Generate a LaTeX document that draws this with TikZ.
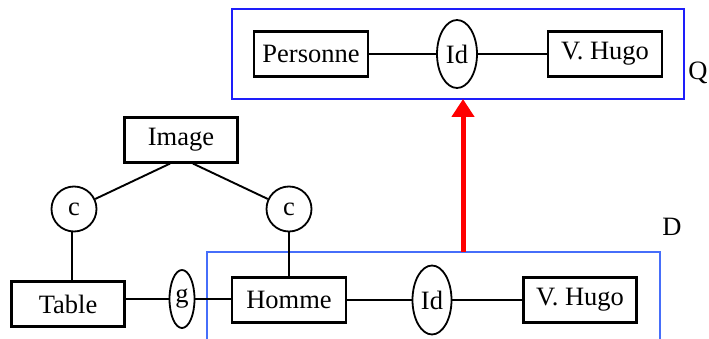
\documentclass[tikz,border=0pt]{standalone}
\usepackage{fontspec}
\setmainfont{Liberation Serif}
\usetikzlibrary{shapes.geometric,arrows.meta}
\definecolor{qblue}{RGB}{30,30,250}
\definecolor{dblue}{RGB}{70,110,250}
\definecolor{arrred}{RGB}{255,0,0}
\begin{document}
\begin{tikzpicture}[x=1pt,y=-1pt,
  every node/.style={font=\fontsize{26.5}{30}\selectfont, inner sep=0pt},
  ent/.style={draw=black, line width=2.2pt, minimum height=45pt},
  rel/.style={draw=black, line width=1.8pt, ellipse},
  circ/.style={draw=black, line width=1.8pt, circle, minimum size=45pt},
  conn/.style={draw=black, line width=1.9pt},
  frameq/.style={draw=qblue, line width=2.2pt},
  framed/.style={draw=dblue, line width=2.2pt}]
\useasboundingbox (0,0) rectangle (709,339);
% Q frame
\draw[frameq] (232,9) rectangle (684,99);
\node (Q) at (698,73) {Q};
\node[ent, minimum width=114pt] (pers) at (311,54) {Personne};
\node[rel, minimum width=40pt, minimum height=68pt] (idq) at (457,54) {Id};
\node[ent, minimum width=114pt] (hugoq) at (605,54) {V. Hugo};
\draw[conn] (pers) -- (idq);
\draw[conn] (idq) -- (hugoq);
% D frame
\draw[framed] (207,252) rectangle (660,345);
\node (D) at (672,227) {D};
\node[ent, minimum width=114pt] (homme) at (289,300) {Homme};
\node[rel, minimum width=39pt, minimum height=69pt] (idd) at (432,300) {Id};
\node[ent, minimum width=113pt] (hugod) at (580,300) {V. Hugo};
\draw[conn] (homme) -- (idd);
\draw[conn] (idd) -- (hugod);
% left part
\node[ent, minimum width=113pt] (image) at (181,140) {Image};
\node[circ] (c1) at (74,209) {c};
\node[circ] (c2) at (289,209) {c};
\node[ent, minimum width=113pt] (table) at (68,304) {Table};
\node[rel, minimum width=25pt, minimum height=58pt] (g) at (182,299) {g};
\draw[conn] ([xshift=-11pt]image.south) -- (c1);
\draw[conn] ([xshift=12pt]image.south) -- (c2);
\draw[conn] (c1.south -| 72,0) -- (table.north -| 72,0);
\draw[conn] (c2) -- (homme);
\draw[conn] (table.east |- g.west) -- (g.west);
\draw[conn] (g.east) -- (homme.west |- g.east);
% red arrow
\coordinate (dtop) at (463,252);
\coordinate (qbot) at (463,99);
\draw[draw=arrred, line width=5pt, -{Triangle[length=18pt,width=22pt]}] (dtop) -- (qbot);
\end{tikzpicture}
\end{document}
